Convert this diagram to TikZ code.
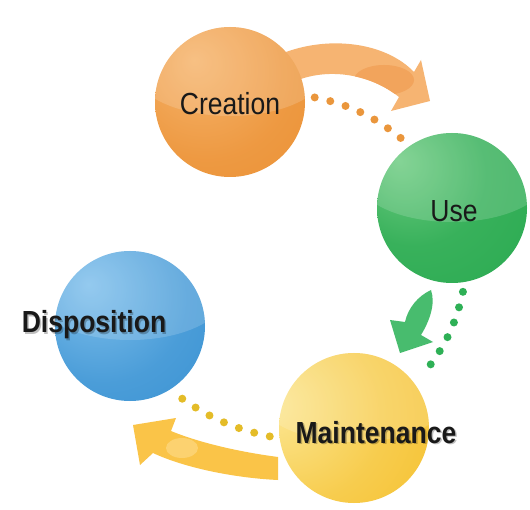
\documentclass[tikz,border=0pt]{standalone}
\usepackage{fontspec}
\newfontfamily\lblfont[FakeStretch=0.87]{Liberation Sans}
\usetikzlibrary{calc}

% palette
\definecolor{orangeMain}{RGB}{234,142,48}
\definecolor{orangeLight}{RGB}{246,180,108}
\definecolor{orangeArrow}{RGB}{246,180,114}
\definecolor{orangeArrowDeep}{RGB}{242,164,92}
\definecolor{greenMain}{RGB}{38,168,78}
\definecolor{greenLight}{RGB}{110,204,130}
\definecolor{greenArrow}{RGB}{72,188,110}
\definecolor{yellowMain}{RGB}{244,186,30}
\definecolor{yellowLight}{RGB}{252,232,150}
\definecolor{yellowArrow}{RGB}{250,196,72}
\definecolor{yellowArrowPale}{RGB}{252,210,112}
\definecolor{blueMain}{RGB}{52,142,208}
\definecolor{blueLight}{RGB}{128,192,236}
\definecolor{orangeDot}{RGB}{234,150,60}
\definecolor{greenDot}{RGB}{46,176,86}
\definecolor{yellowDot}{RGB}{228,188,40}

% sphere shadings, light spot toward the upper left
\pgfdeclareradialshading{orbcreation}{\pgfpoint{-12bp}{14bp}}{%
  color(0bp)=(orangeLight); color(28bp)=(orangeMain!70!orangeLight);
  color(55bp)=(orangeMain); color(80bp)=(orangeMain)}
\pgfdeclareradialshading{orbuse}{\pgfpoint{-18bp}{16bp}}{%
  color(0bp)=(greenLight); color(24bp)=(greenMain!75!greenLight);
  color(55bp)=(greenMain); color(80bp)=(greenMain)}
\pgfdeclareradialshading{orbmaint}{\pgfpoint{-30bp}{8bp}}{%
  color(0bp)=(yellowLight); color(30bp)=(yellowMain!60!yellowLight);
  color(62bp)=(yellowMain); color(85bp)=(yellowMain)}
\pgfdeclareradialshading{orbdisp}{\pgfpoint{-14bp}{14bp}}{%
  color(0bp)=(blueLight); color(28bp)=(blueMain!70!blueLight);
  color(55bp)=(blueMain); color(80bp)=(blueMain)}

\begin{document}
\begin{tikzpicture}[x=1pt,y=-1pt,
  orb/.style={circle, inner sep=0pt, minimum size=150pt, shade, shading=#1,
    path picture={
      \fill[white, opacity=0.16]
        ($(path picture bounding box.center)+(0,-32)$) ellipse [x radius=96, y radius=46];
    }},
  lbl/.style={font=\lblfont\fontsize{30.5}{36}\selectfont, text=black!90, inner sep=0pt, anchor=base},
  lblbold/.style={lbl, font=\lblfont\bfseries\fontsize{30.5}{36}\selectfont},
  lblshadow/.style={lblbold, text=black, opacity=0.25},
  dotline/.style={line width=8pt, line cap=round, dash pattern=on 0pt off 16pt,
    shorten <=10pt, shorten >=10pt},
]
\useasboundingbox (0,0) rectangle (530,510);
\fill[white] (0,0) rectangle (530,510);

% broad cycle arrows, drawn beneath the spheres
\begin{scope}
  \path[clip]
    (286,52) .. controls (330,36) and (385,42) .. (414,72)
    -- (421,60) -- (430,101) -- (391,111) -- (399,97)
    .. controls (370,74) and (330,68) .. (298,80) -- cycle;
  \fill[orangeArrow] (270,30) rectangle (440,120);
  \fill[orangeArrowDeep] (384,80) ellipse [x radius=30, y radius=15];
\end{scope}

\fill[greenArrow]
  (431,290) .. controls (418,296) and (408,308) .. (405,322)
  -- (390,320) -- (400,353) -- (433,342) -- (421,335)
  .. controls (429,322) and (436,304) .. (431,290) -- cycle;

\begin{scope}
  \path[clip]
    (278,457) .. controls (240,452) and (200,443) .. (171,431)
    -- (176,418) -- (133,425) -- (140,465) -- (153,453)
    .. controls (185,468) and (235,478) .. (278,480) -- cycle;
  \fill[yellowArrow] (120,400) rectangle (290,490);
  \fill[yellowArrowPale] (182,448) ellipse [x radius=16, y radius=10];
\end{scope}

% spheres
\node[orb=orbcreation] (creation) at (230,102) {};
\node[orb=orbuse]      (use)      at (452,208) {};
\node[orb=orbmaint]    (maint)    at (354,428) {};
\node[orb=orbdisp]     (disp)     at (130,326) {};

% dotted links between the stages
\draw[dotline, orangeDot] (creation.5) to[bend left=14] (use.124);
\draw[dotline, greenDot]  (use.-80) to[bend left=14] (maint.36);
\draw[dotline, yellowDot] (maint.188) to[bend left=12] (disp.-58);

% labels
\node[lbl] (creationlbl) at (230,115) {Creation};
\node[lbl] (uselbl) at (454,222) {Use};
\node[lblshadow] at (377.5,444.5) {Maintenance};
\node[lblbold] (maintlbl) at (376,443) {Maintenance};
\node[lblshadow] at (95.5,334.5) {Disposition};
\node[lblbold] (displbl) at (94,333) {Disposition};
\end{tikzpicture}
\end{document}
